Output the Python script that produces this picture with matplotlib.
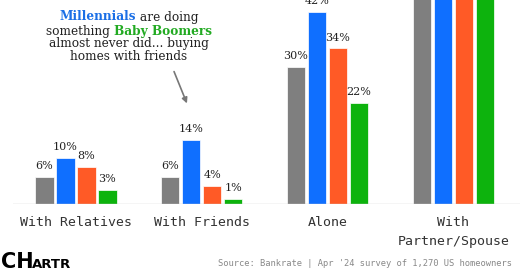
import matplotlib
matplotlib.use("Agg")
import matplotlib.pyplot as plt
import numpy as np

categories = ["With Relatives", "With Friends", "Alone", "With\nPartner/Spouse"]
series_names = ["All", "Millennials", "Gen X", "Baby Boomers"]
values = {
    "All": [6, 6, 30, 58],
    "Millennials": [10, 14, 42, 48],
    "Gen X": [8, 4, 34, 55],
    "Baby Boomers": [3, 1, 22, 72],
}
colors = ["#7f7f7f", "#0f6fff", "#ff5a26", "#0db30d"]

W, H = 520, 272
fig = plt.figure(figsize=(W / 100, H / 100), dpi=100)
ax = fig.add_axes([13 / W, (H - 204) / H, (520 - 13) / W, 204 / H])

x = np.arange(len(categories))
pitch = 0.167
bw = 0.145
for i, name in enumerate(series_names):
    xs = x + (i - 1.5) * pitch
    ax.bar(xs, values[name], width=bw, color=colors[i], edgecolor="white",
           linewidth=0.5, zorder=2)
    for xi, v in zip(xs, values[name]):
        if v < 44:
            ax.text(xi, v + 1.3, f"{v}%", ha="center", va="bottom",
                    fontsize=8, family="DejaVu Serif", color="#222222")

ax.set_xlim(-0.5, 3.53)
ax.set_ylim(0, 44.6)
ax.axhline(0, color="#cccccc", linewidth=1, zorder=3)
for s in ax.spines.values():
    s.set_visible(False)
ax.set_yticks([])
ax.set_xticks(x)
ax.set_xticklabels(categories, family="DejaVu Sans Mono", fontsize=9.5,
                   color="#333333", linespacing=1.6)
ax.tick_params(axis="x", length=0, pad=9)
ax.patch.set_alpha(0)

# annotation
fy = lambda py: 1 - py / H
fx = lambda px: px / W
serif = "DejaVu Serif"
fs = 8.7
ys = [17, 32, 44, 57]
fig.text(fx(129), fy(ys[2]), "almost never did... buying", ha="center", va="center",
         family=serif, fontsize=fs, color="#222222")
fig.text(fx(129), fy(ys[3]), "homes with friends", ha="center", va="center",
         family=serif, fontsize=fs, color="#222222")
r = fig.canvas.get_renderer()
def compose(parts, cx, cy):
    texts = []
    for s, c, w in parts:
        t = fig.text(0, fy(cy), s, ha="left", va="center", family=serif,
                     fontsize=fs, color=c, fontweight=w)
        texts.append(t)
    widths = [t.get_window_extent(renderer=r).width for t in texts]
    total = sum(widths)
    start = cx - total / 2
    for t, wd in zip(texts, widths):
        t.set_x(start / W)
        start += wd
compose([("Millennials", "#1a6fe6", "bold"), (" are doing", "#222222", "normal")], 129, ys[0])
compose([("something ", "#222222", "normal"), ("Baby Boomers", "#22aa22", "bold")], 129, ys[1])

ax_arrow = fig.add_axes([0, 0, 1, 1], facecolor="none")
ax_arrow.set_xlim(0, W)
ax_arrow.set_ylim(H, 0)
ax_arrow.axis("off")
ax_arrow.annotate("", xy=(188, 106), xytext=(173, 69),
                  arrowprops=dict(arrowstyle="-|>", color="#777777", lw=1.2,
                                  mutation_scale=8))

# footer
fig.text(fx(512), fy(263), "Source: Bankrate | Apr '24 survey of 1,270 US homeowners",
         ha="right", va="center", family="DejaVu Sans Mono", fontsize=6.3, color="#888888")
fig.text(fx(1), fy(268), "CH", ha="left", va="baseline", family="DejaVu Sans",
         fontweight="heavy", fontsize=15, color="black")
fig.text(fx(32), fy(268), "ARTR", ha="left", va="baseline", family="DejaVu Sans",
         fontweight="heavy", fontsize=9.5, color="black")

fig.savefig("out.png", dpi=100)
